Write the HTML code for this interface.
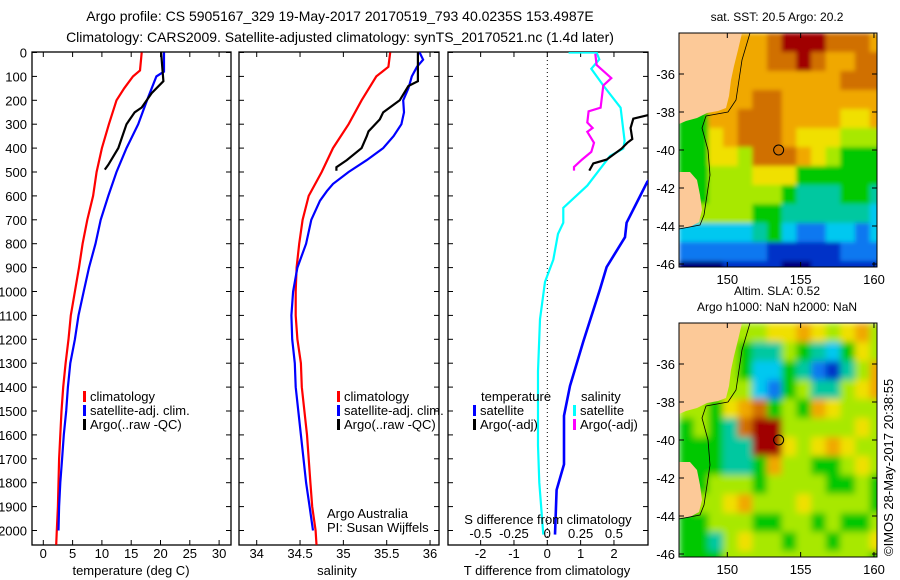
<!DOCTYPE html>
<html><head><meta charset="utf-8"><style>
html,body{margin:0;padding:0;background:#fff;}
svg{display:block;font-family:"Liberation Sans",sans-serif;}
text{fill:#000;}
</style></head><body>
<svg id="fig" width="900" height="580" viewBox="0 0 900 580">
<defs>
<clipPath id="c1"><rect x="32" y="52" width="199" height="493"/></clipPath>
<clipPath id="c2"><rect x="239" y="52" width="200" height="493"/></clipPath>
<clipPath id="c3"><rect x="448" y="52" width="200" height="493"/></clipPath>
<clipPath id="cm1"><rect x="679" y="33" width="198" height="234"/></clipPath>
<clipPath id="cm2"><rect x="679" y="323" width="198" height="234"/></clipPath>
<filter id="bl1" filterUnits="userSpaceOnUse" x="679" y="33" width="198" height="234"><feGaussianBlur stdDeviation="2" edgeMode="duplicate"/></filter>
<filter id="bl2" filterUnits="userSpaceOnUse" x="679" y="323" width="198" height="234"><feGaussianBlur stdDeviation="3.5" edgeMode="duplicate"/></filter>
</defs>
<text x="340" y="21" font-size="14" text-anchor="middle">Argo profile: CS 5905167_329 19-May-2017 20170519_793 40.0235S 153.4987E</text>
<text x="340" y="42" font-size="14" text-anchor="middle">Climatology: CARS2009. Satellite-adjusted climatology: synTS_20170521.nc (1.4d later)</text>
<g id="p1"></g>
<g id="p2"></g>
<g id="p3"></g>
<g id="m1"></g>
<g id="m2"></g>
<text x="0" y="0" font-size="13" transform="translate(893,556) rotate(-90)">©IMOS 28-May-2017 20:38:55</text>
</svg>
<script>
// ---- data ----
const tempClimDepth = [0,75,100,150,200,300,400,500,600,700,800,900,1000,1100,1200,1300,1400,1500,1600,1700,1800,1900,2000,2060];
const tempClim = [16.8,16.5,15.3,13.8,12.5,11.2,10.0,9.1,8.5,7.5,6.7,6.1,5.4,4.7,4.3,3.8,3.4,3.1,2.9,2.7,2.6,2.5,2.3,2.2];
const tempSatDepth = [0,80,100,150,200,300,400,500,600,700,800,900,1000,1100,1200,1300,1400,1500,1600,1700,1800,1900,2000];
const tempSat = [20.6,20.6,19.3,18.5,17.7,16.2,14.2,12.5,11.1,9.8,8.9,7.8,6.9,6.0,5.4,4.6,4.2,3.9,3.5,3.2,2.9,2.7,2.6];
const tempArgoDepth = [0,120,170,230,250,300,400,470,490];
const tempArgo = [20.1,20.5,18.5,16.8,15.6,14.2,12.8,11.1,10.5];
const salClimDepth = [0,60,100,200,300,400,500,600,700,800,900,1000,1100,1200,1300,1400,1500,1600,1700,1800,1900,2000,2060];
const salClim = [35.54,35.52,35.38,35.21,35.06,34.88,34.75,34.60,34.53,34.49,34.46,34.45,34.45,34.47,34.51,34.52,34.55,34.58,34.60,34.62,34.64,34.68,34.69];
const salSatDepth = [0,30,60,100,150,200,250,300,350,400,450,500,550,580,620,700,800,900,1000,1100,1200,1300,1400,1500,1600,1700,1800,1900,2000];
const salSat = [35.88,35.92,35.85,35.79,35.75,35.69,35.70,35.67,35.58,35.46,35.27,35.06,34.88,34.81,34.73,34.63,34.57,34.47,34.42,34.40,34.41,34.44,34.45,34.48,34.51,34.54,34.57,34.61,34.65];
const salArgoDepth = [0,120,140,200,250,280,330,350,400,450,480,495];
const salArgo = [35.86,35.86,35.75,35.65,35.46,35.42,35.29,35.27,35.21,35.04,34.92,34.92];
const dTSatDepth = [100,300,450,541,712,773,898,991,1209,1395,1520,1723,1830,2017];
const dTSat = [4.0,5.0,3.7,3.0,2.38,2.33,1.78,1.58,1.08,0.68,0.5,0.5,0.28,0.23];
const dTArgoDepth = [262,277,316,362,378,402,448,464,494];
const dTArgo = [3.03,2.58,2.5,2.55,2.4,2.23,1.78,1.38,1.26];
const dSSatDepth = [0,0,29,68,138,231,370,402,433,557,650,712,759,867,960,1116,1334,1644,1800,2017];
const dSSat = [0.16,0.37,0.39,0.33,0.42,0.55,0.58,0.57,0.47,0.30,0.12,0.12,0.08,0.045,-0.017,-0.055,-0.07,-0.07,-0.06,-0.03];
const dSArgoDepth = [5,52,107,138,231,246,293,316,332,378,416,448,479,494];
const dSArgo = [0.36,0.37,0.48,0.42,0.40,0.31,0.30,0.34,0.30,0.35,0.33,0.26,0.20,0.20];
const depthTicks = [0,100,200,300,400,500,600,700,800,900,1000,1100,1200,1300,1400,1500,1600,1700,1800,1900,2000];
const tempTicks = [0,5,10,15,20,25,30];
const salTicks = [34,34.5,35,35.5,36];
const dTTicks = [-2,-1,0,1,2];
const dSTicks = [-0.5,-0.25,0,0.25,0.5];
const latTicks = [-36,-38,-40,-42,-44,-46];
const lonTicks = [150,155,160];
const sstGrid = [
[8,8,8,8,8,8,9,10,10,10,9,9,9,8],
[8,8,8,8,8,8,9,9,10,9,8,8,9,9],
[8,8,8,8,8,8,8,8,8,8,8,9,9,9],
[8,8,8,8,8,9,9,8,8,8,8,8,8,8],
[5,5,8,8,9,9,9,8,8,8,8,7,7,8],
[5,5,7,8,9,9,9,8,7,7,7,6,6,6],
[5,5,7,7,6,9,9,9,8,7,6,5,5,5],
[5,5,6,6,6,7,7,7,5,5,5,5,5,5],
[5,5,6,6,6,6,6,5,4,4,4,5,5,4],
[3,6,6,6,6,5,5,4,4,4,4,4,4,3],
[3,3,3,3,3,4,5,3,2,2,3,3,2,3],
[2,2,2,2,2,2,1,1,1,1,1,2,2,2],
[0,0,0,1,1,1,1,0,0,1,1,1,1,1]];
const slaGrid = [
[6,6,6,6,6,6,7,7,8,7,6,7,8,6],
[6,6,6,6,5,4,4,6,5,4,3,5,7,6],
[6,6,6,6,5,3,3,5,4,2,1,4,6,8],
[6,6,6,6,6,3,2,5,6,4,4,6,7,8],
[6,6,5,7,8,9,5,6,5,8,7,6,6,6],
[5,6,5,4,9,10,10,6,6,6,6,6,7,6],
[5,5,5,4,4,10,10,7,6,7,8,7,6,6],
[5,5,5,4,4,5,8,6,6,5,5,6,7,6],
[5,5,6,6,6,5,6,6,6,6,5,5,6,5],
[5,6,6,7,8,6,6,6,7,6,6,6,6,5],
[5,5,6,6,6,5,5,6,6,5,6,5,5,6],
[5,5,4,6,7,6,6,5,6,6,5,6,6,7],
[5,5,5,6,6,6,6,6,6,6,6,6,6,5]];
const palette = ['#00007f','#0030c8','#0a78f0','#00c8f0','#00c8a0','#00c800','#a8e800','#f0e000','#f0a800','#d07000','#a00000'];

// ---- helpers ----
const NS='http://www.w3.org/2000/svg';
function mk(parent,tag,attrs,txt){const e=document.createElementNS(NS,tag);for(const k in attrs)e.setAttribute(k,attrs[k]);if(txt!==undefined)e.textContent=txt;parent.appendChild(e);return e;}
const yD = d => 52.5 + d*0.239;
const xT = t => 43.3 + t*5.86;
const xS = s => 256.7 + (s-34)*86.67;
const xDT = t => 547.3 + t*33.33;
const xDS = s => 547.3 + s*133.33;
function line(g,xs,ds,fx,color,w,clip,name){
  const pts=xs.map((v,i)=>fx(v).toFixed(1)+','+yD(ds[i]).toFixed(1)).join(' ');
  const p=mk(g,'polyline',{points:pts,fill:'none',stroke:color,'stroke-width':w,'clip-path':'url(#'+clip+')'});
  
  
}
function box(g,x0,x1){
  const r=mk(g,'rect',{x:x0,y:52,width:x1-x0,height:493,fill:'none',stroke:'#000','stroke-width':1.3});
  
  
}
function xticks(g,ticks,fx,y,fmt){
  ticks.forEach(t=>{const x=fx(t);
    mk(g,'line',{x1:x,x2:x,y1:545,y2:540,stroke:'#000'});
    mk(g,'line',{x1:x,x2:x,y1:52,y2:57,stroke:'#000'});
    const tx=mk(g,'text',{x:x,y:y,'font-size':13,'text-anchor':'middle'},fmt?fmt(t):String(t));
    
    
  });
}
function yticks(g,x0,x1,labels){
  depthTicks.forEach(d=>{const y=yD(d);
    mk(g,'line',{x1:x0,x2:x0+5,y1:y,y2:y,stroke:'#000'});
    mk(g,'line',{x1:x1,x2:x1-5,y1:y,y2:y,stroke:'#000'});
    if(labels){const t=mk(g,'text',{x:27,y:y+5,'font-size':13,'text-anchor':'end'},String(d));
      
      }
  });
}
function legend(g,x,y0,items){
  items.forEach((it,i)=>{const y=y0+i*14;
    mk(g,'rect',{x:x,y:y-10,width:3,height:11,fill:it[1]});
    const t=mk(g,'text',{x:x+7,y:y,'font-size':13},it[0]);
    
    
  });
}

// ---- panel 1 ----
const p1=document.getElementById('p1');
box(p1,32,231); yticks(p1,32,231,true); xticks(p1,tempTicks,xT,558);
line(p1,tempClim,tempClimDepth,xT,'#ff0000',2.2,'c1','temp-climatology-line');
line(p1,tempSat,tempSatDepth,xT,'#0000ff',2.2,'c1','temp-satellite-line');
line(p1,tempArgo,tempArgoDepth,xT,'#000',2.2,'c1','temp-argo-line');
legend(p1,83,401,[['climatology','#ff0000'],['satellite-adj. clim.','#0000ff'],['Argo(..raw -QC)','#000']]);
mk(p1,'text',{x:131,y:575,'font-size':13,'text-anchor':'middle'},'temperature (deg C)');

// ---- panel 2 ----
const p2=document.getElementById('p2');
box(p2,239,439); yticks(p2,239,439,false); xticks(p2,salTicks,xS,558);
line(p2,salClim,salClimDepth,xS,'#ff0000',2.2,'c2','sal-climatology-line');
line(p2,salSat,salSatDepth,xS,'#0000ff',2.2,'c2','sal-satellite-line');
line(p2,salArgo,salArgoDepth,xS,'#000',2.2,'c2','sal-argo-line');
legend(p2,337,401,[['climatology','#ff0000'],['satellite-adj. clim.','#0000ff'],['Argo(..raw -QC)','#000']]);
mk(p2,'text',{x:327,y:518,'font-size':13},'Argo Australia');
mk(p2,'text',{x:327,y:532,'font-size':13},'PI: Susan Wijffels');
mk(p2,'text',{x:337,y:575,'font-size':13,'text-anchor':'middle'},'salinity');

// ---- panel 3 ----
const p3=document.getElementById('p3');
box(p3,448,648); yticks(p3,448,648,false); xticks(p3,dTTicks,xDT,558);
mk(p3,'line',{x1:xDT(0),x2:xDT(0),y1:52,y2:545,stroke:'#000','stroke-width':1,'stroke-dasharray':'1,3'});
line(p3,dSSat,dSSatDepth,xDS,'#00ffff',2.2,'c3','sal-diff-satellite-line');
line(p3,dSArgo,dSArgoDepth,xDS,'#ff00ff',2.2,'c3','sal-diff-argo-line');
line(p3,dTArgo,dTArgoDepth,xDT,'#000',2.2,'c3','temp-diff-argo-line');
line(p3,dTSat,dTSatDepth,xDT,'#0000ff',2.6,'c3','temp-diff-satellite-line');
dSTicks.forEach(s=>{const t=mk(p3,'text',{x:xDS(s),y:538,'font-size':13,'text-anchor':'middle'},String(s));
  
  });
mk(p3,'text',{x:548,y:524,'font-size':13,'text-anchor':'middle'},'S difference from climatology');
mk(p3,'text',{x:481,y:401,'font-size':13},'temperature');
mk(p3,'text',{x:581,y:401,'font-size':13},'salinity');
legend(p3,473,415,[['satellite','#0000ff'],['Argo(-adj)','#000']]);
legend(p3,573,415,[['satellite','#00ffff'],['Argo(-adj)','#ff00ff']]);
mk(p3,'text',{x:547,y:575,'font-size':13,'text-anchor':'middle'},'T difference from climatology');

// ---- maps ----
const lonX = l => 727.3 + (l-150)*14.667;
function drawMap(id,grid,top,clip,filt,title){
  const g=document.getElementById(id);
  const latY = la => top + 117 + (-40-la)*19;
  const cg=mk(g,'g',{'clip-path':'url(#'+clip+')'});
  const fg=mk(cg,'g',{filter:'url(#'+filt+')'});
  grid.forEach((row,r)=>row.forEach((v,c)=>{
    const cell=mk(fg,'rect',{x:(679+c*14.667).toFixed(1),y:(top+r*19).toFixed(1),width:15.2,height:19.5,fill:palette[v]});
    
    
  }));
  const o=top-33;
  const land=mk(g,'path',{d:`M679 ${33+o} L742 ${33+o} L738 ${50+o} L734 ${66+o} L731 ${80+o} L729 ${96+o} L726 ${108+o} L718 ${111+o} L707 ${113+o} L697 ${118+o} L686 ${121+o} L679 ${124+o} Z M679 ${172+o} L690 ${172+o} L697 ${180+o} L700 ${195+o} L702 ${210+o} L699 ${222+o} L690 ${227+o} L679 ${228+o} Z`,fill:'#fcc998'});
  
  
  mk(g,'path',{d:`M750 ${33+o} L742 ${60+o} L736 ${100+o} L728 ${112+o} L706 ${116+o} L702 ${128+o} L708 ${150+o} L710 ${175+o} L704 ${215+o} L700 ${225+o} L679 ${229+o}`,fill:'none',stroke:'#000','stroke-width':0.8});
  mk(g,'rect',{x:679,y:top,width:198,height:234,fill:'none',stroke:'#000','stroke-width':1});
  const mark=mk(g,'circle',{cx:lonX(153.5),cy:latY(-40),r:5,fill:'none',stroke:'#000','stroke-width':1});
  
  
  latTicks.forEach(la=>{const y=latY(la);
    mk(g,'line',{x1:679,x2:684,y1:y,y2:y,stroke:'#000'});
    mk(g,'line',{x1:877,x2:872,y1:y,y2:y,stroke:'#000'});
    const t=mk(g,'text',{x:675,y:y+5,'font-size':13,'text-anchor':'end'},String(la));
    
    });
  lonTicks.forEach(lo=>{const x=lonX(lo);
    mk(g,'line',{x1:x,x2:x,y1:top+234,y2:top+229,stroke:'#000'});
    mk(g,'line',{x1:x,x2:x,y1:top,y2:top+5,stroke:'#000'});
    const t=mk(g,'text',{x:x,y:top+251,'font-size':13,'text-anchor':'middle'},String(lo));
    
    });
  title.forEach((s,i)=>mk(g,'text',{x:777,y:top-12-(title.length-1-i)*16,'font-size':12,'text-anchor':'middle'},s));
}
drawMap('m1',sstGrid,33,'cm1','bl1',['sat. SST: 20.5 Argo: 20.2']);
drawMap('m2',slaGrid,323,'cm2','bl2',['Altim. SLA: 0.52','Argo h1000: NaN h2000: NaN']);
</script>
</body></html>
